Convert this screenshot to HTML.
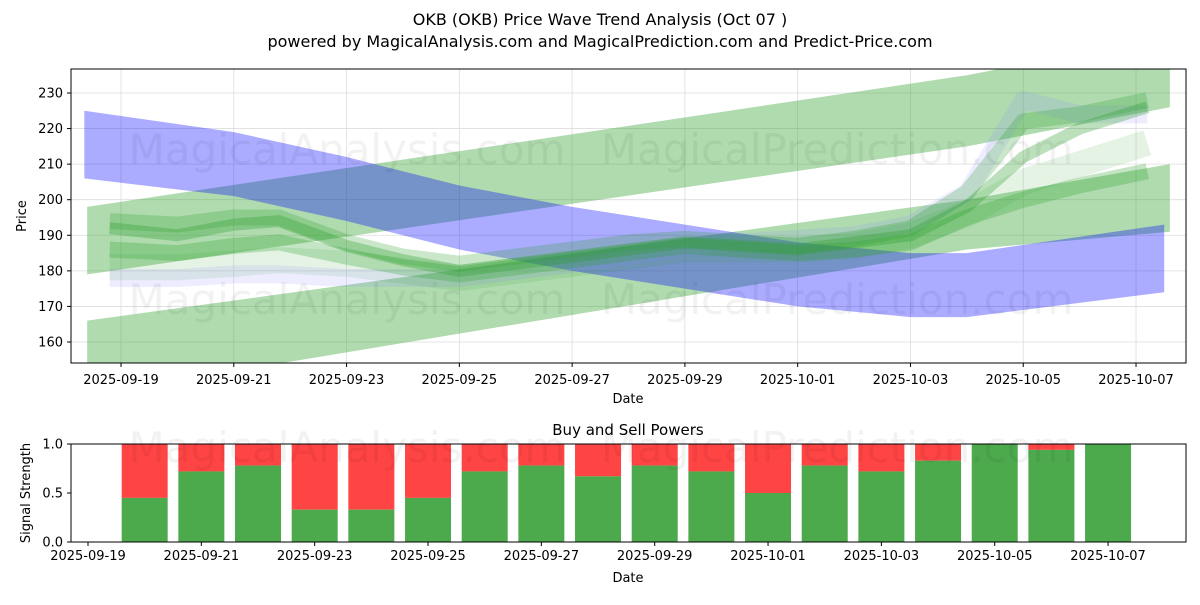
<!DOCTYPE html>
<html><head><meta charset="utf-8"><style>
body{margin:0;background:#fff;font-family:"Liberation Sans","DejaVu Sans",sans-serif}
svg text{font-family:"DejaVu Sans","Liberation Sans",sans-serif}
</style></head><body>
<svg id="c" width="1200" height="600" viewBox="0 0 1200 600" xmlns="http://www.w3.org/2000/svg">
<rect width="1200" height="600" fill="#fff"/>
<text x="600" y="25" text-anchor="middle" font-size="16">OKB (OKB) Price Wave Trend Analysis (Oct 07 )</text>
<text x="600" y="47" text-anchor="middle" font-size="16">powered by MagicalAnalysis.com and MagicalPrediction.com and Predict-Price.com</text>
<g id="topg"></g><g id="botg"></g>
</svg>
<script>
// ---- data ----
const dateLabels=["2025-09-19","2025-09-21","2025-09-23","2025-09-25","2025-09-27","2025-09-29","2025-10-01","2025-10-03","2025-10-05","2025-10-07"];
const priceTicks=[160,170,180,190,200,210,220,230];
const blueDays=[-0.65,2,4,6,8,10,12,14,15,18.5];
const blueUpper=[225,219,212,204,198,193,188,185,185,193];
const blueLower=[206,201,194,186,180,175,170,167,167,174];
const greenHiDays=[-0.6,15,18.6];
const greenHiUpper=[198,235,246];
const greenHiLower=[179,215,226];
const greenLoDays=[-0.6,15,18.6];
const greenLoUpper=[166,200,210];
const greenLoLower=[145,186,191];
const waveDays=[-0.2,1,2,2.8,4,5,6,7,8,9,10,11,12,13,14,15,16,17,18.2];
const wave1=[192,190,193,194,187,183,180,182,184,186,188,187,186,188,190,198,212,220,226];
const wave2=[194,193,195,195,188,184,182,184,186,188,189,188,187,189,192,202,222,224,228];
const wave3=[186,185,187,188,184,181,179,181,183,185,187,186,185,186,188,195,200,204,208];
const wave4=[181,181,182,183,182,180,178,180,182,184,186,186,186,187,190,196,205,210,216];
const wave5=[178,178,179,179,178,178,178,180,182,184,187,188,189,190,193,202,228,224,224];
const barDays=[1,2,3,4,5,6,7,8,9,10,11,12,13,14,15,16,17,18];
const buyPower=[0.45,0.72,0.78,0.33,0.33,0.45,0.72,0.78,0.67,0.78,0.72,0.5,0.78,0.72,0.83,1.0,0.94,1.0];
const sigTicks=[0,0.5,1.0];

const NS="http://www.w3.org/2000/svg";
function mk(t,a,p){const e=document.createElementNS(NS,t);for(const k in a)e.setAttribute(k,a[k]);p.appendChild(e);return e;}
const topG=document.getElementById('topg'),botG=document.getElementById('botg');
const L=71,R=1186,T=69,B=363;
const X=d=>121+d*56.39, Y=v=>93+(230-v)*3.557;
const defs=mk('defs',{},topG);
const cp=mk('clipPath',{id:'cp'},defs);mk('rect',{x:L,y:T,width:R-L,height:B-T},cp);
priceTicks.forEach(v=>{const l=mk('line',{x1:L,x2:R,y1:Y(v),y2:Y(v),stroke:'#ddd','stroke-width':0.8},topG);
 
 
 const t=mk('text',{x:L-8,y:Y(v)+4.5,'text-anchor':'end','font-size':13},topG);t.textContent=v;
 
 
 mk('line',{x1:L-4,x2:L,y1:Y(v),y2:Y(v),stroke:'#000'},topG);});
dateLabels.forEach((s,i)=>{const x=X(i*2);const l=mk('line',{x1:x,x2:x,y1:T,y2:B,stroke:'#ddd','stroke-width':0.8},topG);
 
 
 mk('line',{x1:x,x2:x,y1:B,y2:B+4,stroke:'#000'},topG);
 const t=mk('text',{x:x,y:B+21,'text-anchor':'middle','font-size':13},topG);t.textContent=s;
 
 });
const g=mk('g',{'clip-path':'url(#cp)'},topG);
function band(days,up,lo,color,op,name){let pts=days.map((d,i)=>X(d)+','+Y(up[i]));pts=pts.concat(days.map((d,i)=>X(d)+','+Y(lo[i])).reverse());
 const p=mk('polygon',{points:pts.join(' '),fill:color,'fill-opacity':op},g);
 
 }
band(greenHiDays,greenHiUpper,greenHiLower,'#2ca02c',0.38,'upper-green-band');
band(greenLoDays,greenLoUpper,greenLoLower,'#2ca02c',0.38,'lower-green-band');
band(blueDays,blueUpper,blueLower,'#0000ff',0.33,'blue-trend-band');
function wave(vals,color,op,w,name){const p=mk('polyline',{points:waveDays.map((d,i)=>X(d)+','+Y(vals[i])).join(' '),fill:'none',stroke:color,'stroke-opacity':op,'stroke-width':w,'stroke-linejoin':'round'},g);
 
 }
wave(wave4,'#2ca02c',0.12,26,'wave-line-4');
wave(wave5,'#8888ff',0.15,18,'wave-line-5');
wave(wave3,'#2ca02c',0.28,16,'wave-line-3');
wave(wave2,'#2ca02c',0.25,16,'wave-line-2');
wave(wave1,'#2ca02c',0.32,12,'wave-line-1');
[[347,150,'MagicalAnalysis.com'],[837,150,'MagicalPrediction.com'],[347,300,'MagicalAnalysis.com'],[837,300,'MagicalPrediction.com']].forEach(w=>{const t=mk('text',{x:w[0],y:w[1]+14,'text-anchor':'middle','font-size':42,fill:'#000','fill-opacity':0.05},g);t.textContent=w[2];
 
 });
mk('rect',{x:L,y:T,width:R-L,height:B-T,fill:'none',stroke:'#000','stroke-width':1},topG);
let t=mk('text',{x:628,y:403,'text-anchor':'middle','font-size':13},topG);t.textContent='Date';


t=mk('text',{x:26,y:216,'text-anchor':'middle','font-size':13,transform:'rotate(-90 26 216)'},topG);t.textContent='Price';



const BT=444,BB=542;
const X2=d=>88+d*56.67, Y2=v=>BB-v*(BB-BT);
t=mk('text',{x:628,y:435,'text-anchor':'middle','font-size':15},botG);t.textContent='Buy and Sell Powers';


barDays.forEach((d,i)=>{const x=X2(d)-23;
 const r=mk('rect',{x:x,y:BT,width:46,height:Y2(buyPower[i])-BT,fill:'#ff4444'},botG);
 
 
 const b=mk('rect',{x:x,y:Y2(buyPower[i]),width:46,height:BB-Y2(buyPower[i]),fill:'#4caa4c'},botG);
 
 });
[[347,'MagicalAnalysis.com'],[837,'MagicalPrediction.com']].forEach(w=>{const t=mk('text',{x:w[0],y:462,'text-anchor':'middle','font-size':42,fill:'#000','fill-opacity':0.05},botG);t.textContent=w[1];
 
 });
sigTicks.forEach(v=>{mk('line',{x1:L-4,x2:L,y1:Y2(v),y2:Y2(v),stroke:'#000'},botG);const t=mk('text',{x:L-8,y:Y2(v)+4.5,'text-anchor':'end','font-size':13},botG);t.textContent=v.toFixed(1);
 
 });
dateLabels.forEach((s,i)=>{const x=X2(i*2);mk('line',{x1:x,x2:x,y1:BB,y2:BB+4,stroke:'#000'},botG);const t=mk('text',{x:x,y:BB+18,'text-anchor':'middle','font-size':13},botG);t.textContent=s;
 
 });
mk('rect',{x:L,y:BT,width:R-L,height:BB-BT,fill:'none',stroke:'#000','stroke-width':1},botG);
t=mk('text',{x:628,y:582,'text-anchor':'middle','font-size':13},botG);t.textContent='Date';


t=mk('text',{x:30,y:493,'text-anchor':'middle','font-size':13,transform:'rotate(-90 30 493)'},botG);t.textContent='Signal Strength';


</script>
</body></html>
